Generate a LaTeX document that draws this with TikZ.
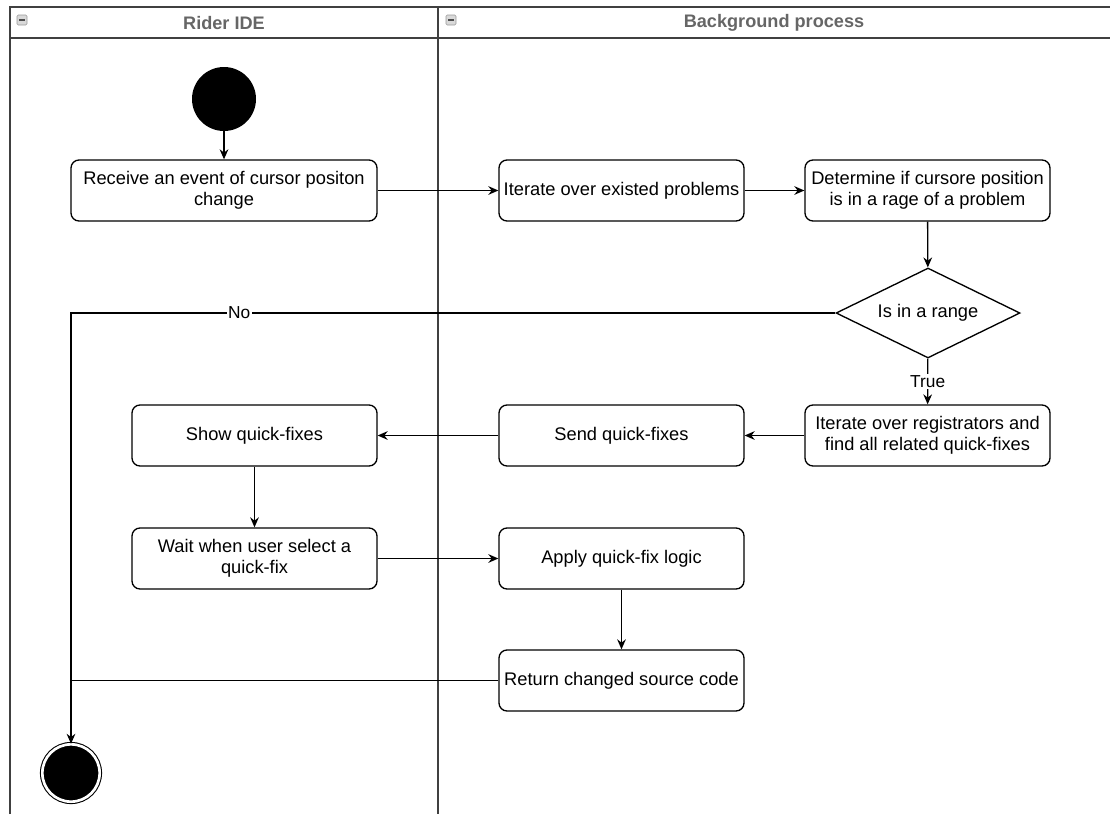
\documentclass[tikz,border=0pt]{standalone}
\usepackage{fontspec}
\setmainfont{Liberation Sans}
\usetikzlibrary{arrows.meta, calc, positioning, shapes.geometric}
\tikzset{>={Stealth[length=7.5pt,width=6.5pt]}}

\begin{document}
\begin{tikzpicture}[x=0.75pt, y=-0.75pt]
    \useasboundingbox (0,0) rectangle (1110,814);
    % swimlanes
    \begin{scope}[draw=black!75, line width=1pt]
      \draw (10,814) -- (10,7) -- (1110,7);
      \draw (10,38) -- (1110,38);
      \draw (438,7) -- (438,814);
    \end{scope}
    \begin{scope}[every node/.style={text=black!60, font=\fontsize{13.6}{16}\selectfont\bfseries}]
      \node (laneA) at (224,23) {Rider IDE};
      \node (laneB) at (774,23) {Background process};
    \end{scope}
    \foreach \x in {22,451} {
      \draw[black!40, fill=black!15, rounded corners=1pt] (\x-5,15) rectangle (\x+5,25);
      \draw[black!70, line width=1.5pt] (\x-3,20) -- (\x+3,20);
    }
    \begin{scope}[every node/.style={rectangle, rounded corners=6pt, draw, line width=1pt,
                  minimum width=183.75pt, minimum height=45.75pt, align=center,
                  font=\fontsize{13.7}{16}\selectfont}]
      \node (recv) [minimum width=229.5pt] at (224,190.5) {Receive an event of cursor positon\\change};
      \node (iter) at (621.5,190.5) {Iterate over existed problems};
      \node (det) at (927.5,190.5) {Determine if cursore position\\is in a rage of a problem};
      \node (reg) at (927.5,435.5) {Iterate over registrators and\\find all related quick-fixes};
      \node (send) at (621.5,435.5) {Send quick-fixes};
      \node (show) at (254.5,435.5) {Show quick-fixes};
      \node (wait) at (254.5,558.5) {Wait when user select a\\quick-fix};
      \node (apply) at (621.5,558.5) {Apply quick-fix logic};
      \node (ret) at (621.5,680.5) {Return changed source code};
      \node (range) [diamond, rounded corners=0pt, inner sep=0pt, shape aspect=2.04,
                     minimum width=138pt, minimum height=67.5pt] at (928,313) {Is in a range};
    \end{scope}
    \node (start) [circle, fill=black, minimum size=48pt, inner sep=0pt] at (224,99) {};
    \node (stop) [circle, draw, line width=0.8pt, fill=black, double=white,
                  double distance=2pt, minimum size=43pt, inner sep=0pt] at (71,773) {};
    \begin{scope}[every node/.style={fill=white, inner sep=1pt, font=\fontsize{13}{15}\selectfont},
                  every edge/.style={draw=black, line width=1pt}]
      \path [->] (start) edge (recv);
      \path [->] (recv) edge (iter);
      \path [->] (iter) edge (det);
      \path [->] (det) edge (range);
      \path [->] (range) edge node {True} (reg);
      \path [->] (reg) edge (send);
      \path [->] (send) edge (show);
      \path [->] (show) edge (wait);
      \path [->] (wait) edge (apply);
      \path [->] (apply) edge (ret);
      \draw [->, line width=1pt] (range.west) -- node[pos=0.78] {No} (range.west -| stop) -- (stop);
      \draw [line width=1pt] (ret.west) -- (ret.west -| stop);
    \end{scope}
  \end{tikzpicture}
\end{document}
